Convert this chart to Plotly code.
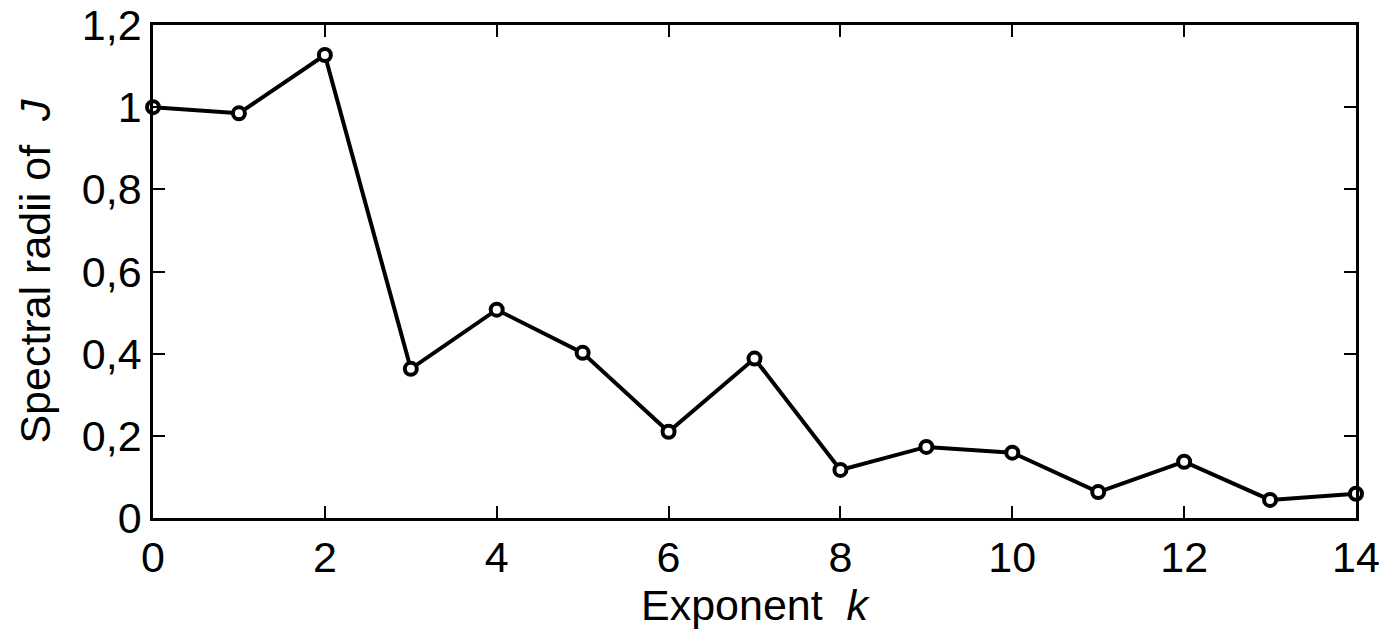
import plotly.graph_objects as go

k_values = list(range(15))
spectral_radii = [1.0, 0.985, 1.127, 0.363, 0.507, 0.402, 0.21, 0.388, 0.117, 0.173, 0.159, 0.063, 0.137, 0.044, 0.059]
y_tickvals = [0, 0.2, 0.4, 0.6, 0.8, 1.0, 1.2]
y_ticktext = ["0", "0,2", "0,4", "0,6", "0,8", "1", "1,2"]
x_tickvals = [0, 2, 4, 6, 8, 10, 12, 14]

FONT = "Liberation Sans, Arial, sans-serif"
FS = 43

fig = go.Figure()
fig.add_trace(go.Scatter(
    x=k_values, y=spectral_radii, mode="lines+markers",
    line=dict(color="black", width=4),
    marker=dict(symbol="circle", size=12, color="white", line=dict(color="black", width=4)),
    cliponaxis=False, showlegend=False,
))

fig.update_layout(
    width=1388, height=635,
    margin=dict(l=153, r=32, t=25, b=117),
    paper_bgcolor="white", plot_bgcolor="white",
    font=dict(family=FONT, size=FS, color="black"),
    xaxis=dict(
        range=[0, 14], tickvals=x_tickvals, ticks="inside", ticklen=12, tickwidth=2,
        tickcolor="black", showline=True, linecolor="black", linewidth=2.5, mirror="ticks",
        showgrid=False, zeroline=False, automargin=False, ticklabeloverflow="allow",
        title=dict(text="Exponent  <i>k</i>", font=dict(size=FS), standoff=6),
    ),
    yaxis=dict(
        range=[0, 1.2], tickvals=y_tickvals, ticktext=y_ticktext, ticks="inside", ticklen=12,
        tickwidth=2, tickcolor="black", showline=True, linecolor="black", linewidth=2.5,
        mirror="ticks", showgrid=False, zeroline=False, automargin=False,
        ticklabeloverflow="allow",
        title=dict(text="Spectral radii of  <i>J</i>", font=dict(size=FS), standoff=18),
    ),
)

fig.write_html("out.html", config={"displayModeBar": False},
               post_script="document.body.style.margin='0';")
